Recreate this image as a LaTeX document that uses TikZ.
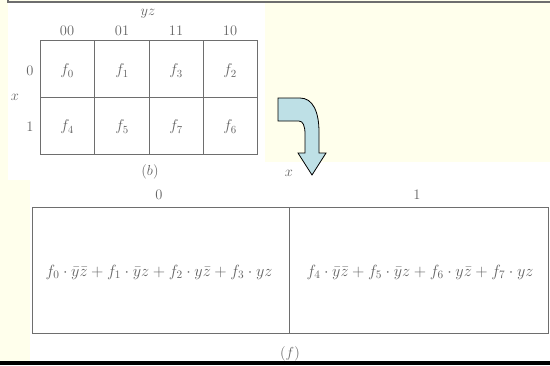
\RequirePackage{fix-cm}
\documentclass[tikz,border=0pt]{standalone}
\usepackage{amsmath}
\definecolor{cream}{RGB}{255,255,236}
\definecolor{inkgray}{RGB}{100,100,100}
\definecolor{linegray}{RGB}{110,110,110}
\definecolor{arrowblue}{RGB}{190,224,230}
\begin{document}
\begin{tikzpicture}[x=1pt,y=-1pt,
  lbl/.style={text=inkgray,font=\fontsize{14.5}{16}\selectfont,inner sep=0pt},
  cell/.style={text=inkgray,font=\fontsize{15.5}{18}\selectfont,inner sep=0pt},
  formula/.style={text=inkgray,font=\fontsize{16.2}{18}\selectfont,inner sep=0pt},
  grid/.style={draw=linegray,line width=0.9pt}]
\useasboundingbox (0,0) rectangle (550,365);
\fill[cream] (0,0) rectangle (550,365);
\fill[white] (8,3) rectangle (265,180);
\fill[white] (30,162) rectangle (550,361);
\draw[linegray,line width=1.5pt] (8,0) -- (8,2) -- (550,2);
\fill[black] (0,361) rectangle (550,365);
% K-map
\draw[grid] (40,40) rectangle (257,154);
\draw[grid] (94,40) -- (94,154) (149,40) -- (149,154) (203,40) -- (203,154) (40,97) -- (257,97);
\node[lbl] (yz) at (148,14) {$yz$};
\node[lbl] (c00) at (67,31) {00};
\node[lbl] (c01) at (122,31) {01};
\node[lbl] (c11) at (176,31) {11};
\node[lbl] (c10) at (230,31) {10};
\node[lbl] (r0) at (30,71) {0};
\node[lbl] (r1) at (30,127) {1};
\node[lbl] (xl) at (15,97) {$x$};
\node[cell] (f0) at (67,71) {$f_0$};
\node[cell] (f1) at (122,71) {$f_1$};
\node[cell] (f3) at (176,71) {$f_3$};
\node[cell] (f2) at (230,71) {$f_2$};
\node[cell] (f4) at (67,127) {$f_4$};
\node[cell] (f5) at (122,127) {$f_5$};
\node[cell] (f7) at (176,127) {$f_7$};
\node[cell] (f6) at (230,127) {$f_6$};
\node[lbl] (b) at (150,172) {$(b)$};
% bent arrow
\draw[fill=arrowblue,draw=black,line width=0.8pt,line join=miter]
  (278,98) -- (300,98) .. controls (313,98) and (319,112) .. (319,132)
  -- (319,153) -- (326,153) -- (312,175) -- (298,153) -- (305,153)
  -- (305,134) .. controls (305,126) and (303,121) .. (299,121)
  -- (278,121) -- cycle;
\node[lbl] (x2) at (289,173) {$x$};
% lower map
\draw[grid] (32,207) rectangle (548,333);
\draw[grid] (289,207) -- (289,333);
\node[lbl] (l0) at (159,195) {0};
\node[lbl] (l1) at (417,195) {1};
\node[formula] (e0) at (159,272) {$f_0\cdot\bar y\bar z+f_1\cdot\bar y z+f_2\cdot y\bar z+f_3\cdot yz$};
\node[formula] (e1) at (420,272) {$f_4\cdot\bar y\bar z+f_5\cdot\bar y z+f_6\cdot y\bar z+f_7\cdot yz$};
\node[lbl] (fl) at (290,354) {$(f)$};
\end{tikzpicture}
\end{document}
